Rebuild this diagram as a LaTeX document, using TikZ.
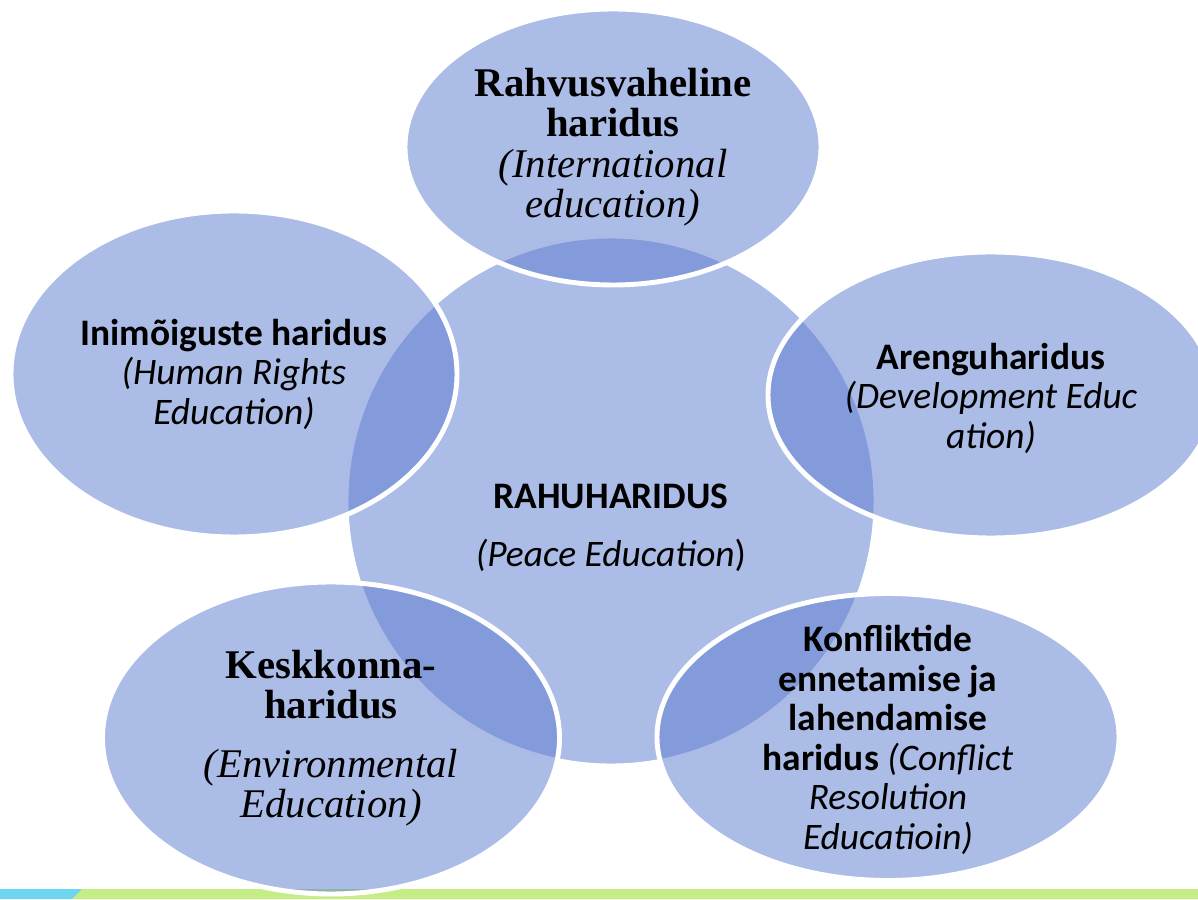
\documentclass[tikz,border=0pt]{standalone}
\usepackage{fontspec}
\setmainfont{Carlito}
\newfontfamily\serifbody{Liberation Serif}
\usetikzlibrary{shapes.geometric}
\definecolor{bubbleblue}{RGB}{94,126,208}
\definecolor{stripcyan}{RGB}{109,213,240}
\definecolor{stripgreen}{RGB}{197,237,133}
\tikzset{
  pe/bubble/.style={ellipse, draw=white, line width=2.8pt, fill=bubbleblue, fill opacity=0.52, draw opacity=1, inner sep=0pt},
  pe/sans/.style={align=center, inner sep=0pt, font=\fontsize{21.3}{22.5}\selectfont},
  pe/serif/.style={align=center, inner sep=0pt, font=\serifbody\fontsize{23.2}{23}\selectfont}
}
\begin{document}
\begin{tikzpicture}
  \useasboundingbox (0,0) rectangle (23.96,17.98);
  % bottom strip
  \fill[stripcyan] (0,0) rectangle (1.64,0.2);
  \fill[stripgreen] (1.44,0) -- (1.64,0.2) -- (23.96,0.2) -- (23.96,0) -- cycle;

  % the centre first, the five around it over it
  \node[pe/bubble, circle, minimum size=10.6cm] (peace) at (12.22,7.96) {};
  \node[pe/bubble, minimum width=8.32cm, minimum height=5.52cm] (intl) at (12.26,15.04) {};
  \node[pe/bubble, minimum width=8.92cm, minimum height=6.52cm] (rights) at (4.68,10.5) {};
  \node[pe/bubble, minimum width=8.92cm, minimum height=5.72cm] (devel) at (19.82,10.08) {};
  \node[pe/bubble, minimum width=9.14cm, minimum height=6.24cm] (envir) at (6.62,3.22) {};
  \node[pe/bubble, minimum width=9.24cm, minimum height=5.74cm] (confl) at (17.76,3.24) {};

  % texts
  \node[pe/serif] (intltext) at (intl) {\textbf{Rahvusvaheline}\\ \textbf{haridus}\\ \textit{(International}\\ \textit{education)}};
  \node[pe/sans] (rightstext) at (rights) {\textbf{Inimõiguste haridus}\\ \textit{(Human Rights}\\ \textit{Education)}};
  \node[pe/sans] (develtext) at ([yshift=-0.06cm]devel) {\textbf{Arenguharidus}\\ \textit{(Development Educ}\\ \textit{ation)}};
  \node[pe/sans] (peacetext) at ([yshift=-0.54cm]peace) {\textbf{RAHUHARIDUS}\\[0.38cm] \textit{(Peace Education})};
  \node[pe/serif] (envirtext) at (envir) {\textbf{Keskkonna-}\\ \textbf{haridus}\\[0.36cm] \textit{(Environmental}\\ \textit{Education)}};
  \node[pe/sans] (confltext) at ([yshift=-0.06cm]confl) {\textbf{Konfliktide}\\ \textbf{ennetamise ja}\\ \textbf{lahendamise}\\ \textbf{haridus} \textit{(Conflict}\\ \textit{Resolution}\\ \textit{Educatioin)}};
\end{tikzpicture}
\end{document}
